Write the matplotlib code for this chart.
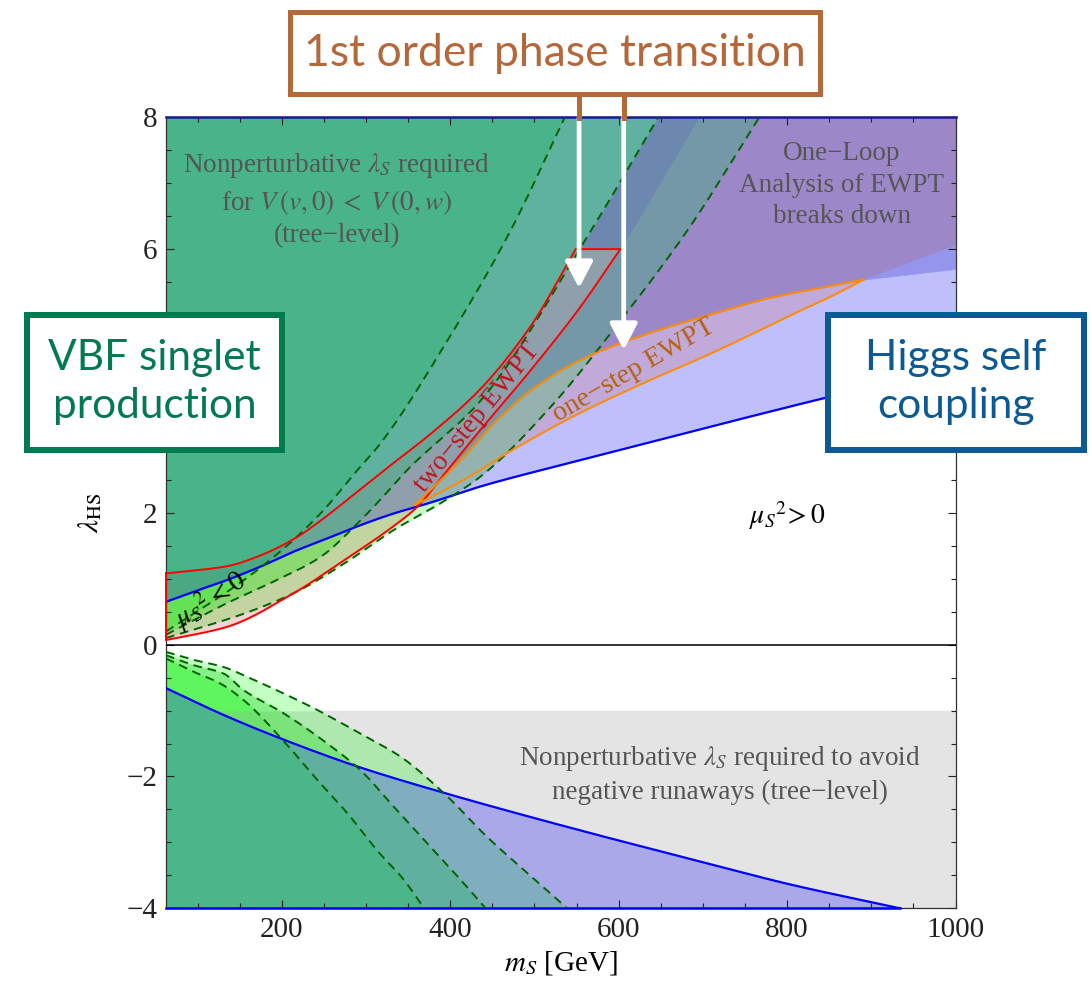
import numpy as np
import matplotlib
matplotlib.use('Agg')
import matplotlib.pyplot as plt
from matplotlib.patches import Rectangle
from matplotlib.lines import Line2D
from matplotlib.ticker import MultipleLocator, FixedLocator, FuncFormatter

plt.rcParams['font.family'] = ['Liberation Serif', 'DejaVu Serif']
plt.rcParams['mathtext.fontset'] = 'stix'

# ---------------- data (m_S [GeV], lambda_HS) ----------------
# Higgs self-coupling boundary (upper and lower branches)
blue_up_m = [62.5, 95, 135, 174, 214, 254, 293, 333, 373, 436, 555, 710, 844, 1000]
blue_up_l = [0.65, 0.80, 0.98, 1.18, 1.41, 1.61, 1.81, 1.99, 2.14, 2.40, 2.80, 3.31, 3.74, 4.22]
blue_lo_m = [62.5, 135, 202, 290, 393, 555, 700, 801, 934]
blue_lo_l = [-0.66, -1.09, -1.44, -1.85, -2.25, -2.82, -3.30, -3.63, -4.0]

# VBF singlet production contours (dashed), lambda_HS > 0
dA_m = [62.5, 115, 155, 198, 246, 290, 317, 397, 472, 536]
dA_l = [0.20, 0.63, 0.98, 1.41, 1.99, 2.65, 3.05, 4.62, 6.29, 8.0]
dB_m = [62.5, 135, 194, 246, 290, 317, 349, 436, 559, 647]
dB_l = [0.15, 0.63, 0.98, 1.33, 1.84, 2.20, 2.65, 3.70, 6.11, 8.0]
dC_m = [62.5, 155, 214, 274, 333, 389, 436, 516, 603, 682, 767]
dC_l = [0.10, 0.47, 0.78, 1.23, 1.74, 2.15, 2.55, 3.56, 4.93, 6.29, 8.0]

# VBF singlet production contours (dashed), lambda_HS < 0
d1_m = [62.5, 95, 127, 154.5, 202, 242, 278, 313, 345, 369]
d1_l = [-0.21, -0.41, -0.59, -0.84, -1.46, -2.05, -2.56, -3.12, -3.57, -4.0]
d2_m = [62.5, 95, 131, 154.5, 202, 254, 293, 333, 373, 412.5, 442]
d2_l = [-0.16, -0.31, -0.44, -0.69, -1.04, -1.50, -1.90, -2.46, -3.02, -3.57, -4.0]
d3_m = [62.5, 95, 131, 159, 202, 242, 293, 341, 393, 444, 492, 539]
d3_l = [-0.11, -0.23, -0.34, -0.49, -0.74, -0.99, -1.35, -1.70, -2.26, -2.92, -3.47, -4.0]

# two-step EWPT region (red): upper-left edge, flat top at 6, lower-right edge
red_hi_m = [62.5, 135, 174, 214, 246, 274, 317, 377, 436, 496, 549]
red_hi_l = [1.08, 1.19, 1.35, 1.60, 1.88, 2.16, 2.60, 3.20, 3.88, 4.84, 6.0]
red_top = 6.0
red_lo_m = [62.5, 135, 214, 274, 333, 360, 397, 436, 496, 555, 602]
red_lo_l = [0.07, 0.27, 0.78, 1.28, 1.80, 2.08, 2.65, 3.26, 4.17, 5.13, 6.0]
red_ext_m = [602, 695]          # continuation of the two-step band above lambda_HS = 6
red_ext_l = [6.0, 8.0]

# one-step EWPT region (orange)
oh_m = [358, 377, 416, 456, 496, 555, 635, 710, 776, 855, 891]
oh_l = [2.12, 2.35, 2.85, 3.41, 3.86, 4.32, 4.72, 5.01, 5.25, 5.45, 5.54]
ol_m = [358, 377, 416, 476, 555, 635, 710, 776, 813, 855, 891]
ol_l = [2.12, 2.24, 2.50, 2.97, 3.52, 4.00, 4.42, 4.82, 5.05, 5.30, 5.54]

# one-loop breakdown wedge beyond the one-step tip
wedge_m = [891, 1000]
wedge_top_l = [5.54, 6.06]
wedge_bot_l = [5.54, 5.70]

gray_top = -1.0          # nonperturbative lambda_S (negative runaways): lambda_HS < -1
arrow_m = [553, 606]     # white arrows from the title box
arrow_tip = [5.41, 4.47]

# ---------------- figure ----------------
W_PX, H_PX = 1091, 986
fig = plt.figure(figsize=(W_PX / 100, H_PX / 100), dpi=100)
L_PX, R_PX, T_PX, B_PX = 166, 955.5, 117.3, 908.3
ax = fig.add_axes([L_PX / W_PX, 1 - B_PX / H_PX, (R_PX - L_PX) / W_PX, (B_PX - T_PX) / H_PX])
XMIN, XMAX, YMIN, YMAX = 62.5, 1000, -4, 8
ax.set_xlim(XMIN, XMAX)
ax.set_ylim(YMIN, YMAX)

M = np.linspace(XMIN, XMAX, 4000)


def pchip(xs, ys, x, left=np.nan, right=np.nan):
    """Monotone cubic (Fritsch-Carlson) curve through the read points."""
    xs = np.asarray(xs, float)
    ys = np.asarray(ys, float)
    x = np.asarray(x, float)
    h = np.diff(xs)
    d = np.diff(ys) / h
    n = len(xs)
    s = np.zeros(n)
    s[0], s[-1] = d[0], d[-1]
    for k in range(1, n - 1):
        if d[k - 1] * d[k] > 0:
            w1 = 2 * h[k] + h[k - 1]
            w2 = h[k] + 2 * h[k - 1]
            s[k] = (w1 + w2) / (w1 / d[k - 1] + w2 / d[k])
    i = np.clip(np.searchsorted(xs, x) - 1, 0, n - 2)
    t = (x - xs[i]) / h[i]
    h00 = 2 * t ** 3 - 3 * t ** 2 + 1
    h10 = t ** 3 - 2 * t ** 2 + t
    h01 = -2 * t ** 3 + 3 * t ** 2
    h11 = t ** 3 - t ** 2
    y = h00 * ys[i] + h10 * h[i] * s[i] + h01 * ys[i + 1] + h11 * h[i] * s[i + 1]
    y = np.where(x < xs[0], left, y)
    y = np.where(x > xs[-1], right, y)
    return y


def f(xs, ys, left=np.nan, right=np.nan):
    return pchip(xs, ys, M, left, right)


def curve(xs, ys, n=400):
    xx = np.linspace(xs[0], xs[-1], n)
    return xx, pchip(xs, ys, xx)


def zone(lo, hi, color, z=1):
    lo = np.broadcast_to(np.asarray(lo, float), M.shape)
    hi = np.broadcast_to(np.asarray(hi, float), M.shape)
    ok = np.isfinite(lo) & np.isfinite(hi) & (hi > lo)
    if not ok.any():
        return
    ax.fill_between(M, np.where(ok, lo, 0), np.where(ok, hi, 0), where=ok,
                    facecolor=color, edgecolor=color, lw=0.5, zorder=z)


def MX(*a):
    r = a[0]
    for b in a[1:]:
        r = np.maximum(r, b)
    return r


def MN(*a):
    r = a[0]
    for b in a[1:]:
        r = np.minimum(r, b)
    return r


# ---- colours of the overlapping regions ----
gray = '#e4e4e4'
Lc = {0: '#bfbffc', 1: '#93b6bc', 2: '#5fb2a0', 3: '#49b489'}
Wc = {1: '#c6fac2', 2: '#88ee88', 3: '#62f062'}
Oc = {0: '#c1aad9', 1: '#96b2ae', 2: '#5fb2a0', 3: '#49b489'}
Pc = {0: '#9c88c8', 1: '#7598a8', 2: '#6a9aa8', 3: '#49b489'}
wedge_c = '#9595ee'
band_c = '#6d88ae'
RLc = {0: '#b8a8d0', 1: '#8fa0ac', 2: '#68a696', 3: '#4aa882'}
RWc = {0: '#f2d4d4', 1: '#c2d4a0', 2: '#8cd870', 3: '#64e155'}
Bc = {0: '#a9a9e9', 1: '#80aebe', 2: '#60b0a0', 3: '#4ab689'}
Gc = {1: '#aee8ae', 2: '#7ce27c', 3: '#6ee06e'}
WLc = {1: '#c2ffc2', 2: '#88f088', 3: '#5ef55e'}

# ---- upper half ----
bu = f(blue_up_m, blue_up_l)
A = f(dA_m, dA_l, right=99)
B = f(dB_m, dB_l, right=99)
C = f(dC_m, dC_l, right=99)
V = {3: (A, YMAX), 2: (B, A), 1: (C, B), 0: (0.0, C)}
ohi = f(oh_m, oh_l)
olo = f(ol_m, ol_l)
wt = np.interp(M, wedge_m, wedge_top_l, left=np.nan, right=np.nan)
wb = np.interp(M, wedge_m, wedge_bot_l, left=np.nan, right=np.nan)
pfl = np.where(M <= wedge_m[0], ohi, wt)
rlo = f(red_lo_m, red_lo_l)
rhi = np.where(M <= red_hi_m[-1], f(red_hi_m, red_hi_l), np.where(M <= red_lo_m[-1], red_top, np.nan))
S = np.where(M <= red_lo_m[-1], rlo, np.interp(M, red_ext_m, red_ext_l, right=YMAX))

for k, (vl, vh) in V.items():
    zone(MX(bu, vl), MN(YMAX, vh), Lc[k])
for k in (1, 2, 3):
    vl, vh = V[k]
    zone(MX(0.0, vl), MN(bu, vh), Wc[k])
for k, (vl, vh) in V.items():
    zone(MX(olo, vl), MN(ohi, vh), Oc[k])
for k, (vl, vh) in V.items():
    zone(MX(pfl, vl), MN(S, YMAX, vh), Pc[k])
zone(wb, wt, wedge_c)
zone(MX(red_top, S), MN(B, YMAX), band_c)
for k, (vl, vh) in V.items():
    zone(MX(rlo, bu, vl), MN(rhi, vh), RLc[k])
    zone(MX(rlo, vl, 0.0), MN(rhi, bu, vh), RWc[k])

# ---- lower half ----
ax.fill_between(M, YMIN, gray_top, facecolor=gray, edgecolor=gray, lw=0.5, zorder=1)
bl = f(blue_lo_m, blue_lo_l, right=-99)
D1 = f(d1_m, d1_l, right=-99)
D2 = f(d2_m, d2_l, right=-99)
D3 = f(d3_m, d3_l, right=-99)
VL = {3: (YMIN, D1), 2: (D1, D2), 1: (D2, D3), 0: (D3, 0.0)}
for k, (vl, vh) in VL.items():
    zone(MX(YMIN, vl), MN(bl, vh), Bc[k])
for k in (1, 2, 3):
    vl, vh = VL[k]
    zone(MX(bl, vl), MN(gray_top, vh), Gc[k])
    zone(MX(bl, gray_top, vl), MN(0.0, vh), WLc[k])

# ---- boundary lines ----
blue = '#0000ff'
ax.plot(*curve(blue_up_m, blue_up_l), color=blue, lw=1.6, zorder=3)
ax.plot(*curve(blue_lo_m, blue_lo_l), color=blue, lw=1.6, zorder=3)
ax.plot([XMIN, XMAX], [YMAX, YMAX], color='#1a1a9a', lw=1.8, zorder=3, clip_on=False)
ax.plot([XMIN, blue_lo_m[-1]], [YMIN, YMIN], color=blue, lw=1.8, zorder=3, clip_on=False)
dg = '#006400'
for xs, ys in ((dA_m, dA_l), (dB_m, dB_l), (dC_m, dC_l), (d1_m, d1_l), (d2_m, d2_l), (d3_m, d3_l)):
    ax.plot(*curve(xs, ys), color=dg, lw=1.4, ls=(0, (4.5, 3)), zorder=3)
hx, hy = curve(red_hi_m, red_hi_l)
lx, ly = curve(red_lo_m, red_lo_l)
red_x = np.concatenate([hx, [red_lo_m[-1]], lx[::-1], [hx[0]]])
red_y = np.concatenate([hy, [red_top], ly[::-1], [hy[0]]])
ax.plot(red_x, red_y, color='#ff0000', lw=1.4, zorder=3, clip_on=False)
ax.plot(*curve(oh_m, oh_l), color='#ff8c00', lw=1.4, zorder=3)
ax.plot(*curve(ol_m, ol_l), color='#ff8c00', lw=1.4, zorder=3)
ax.axhline(0, color='black', lw=1.1, zorder=3)

# ---- axes styling ----
ax.xaxis.set_major_locator(FixedLocator([200, 400, 600, 800, 1000]))
ax.xaxis.set_minor_locator(MultipleLocator(50))
ax.yaxis.set_major_locator(MultipleLocator(2))
ax.yaxis.set_minor_locator(MultipleLocator(0.5))
# the "4" label is hidden behind the VBF box in the original
ax.yaxis.set_major_formatter(FuncFormatter(lambda v, p: '' if abs(v - 4) < 1e-9 else f'{v:g}'.replace('-', '\u2212')))
ax.tick_params(which='both', direction='in', top=True, right=True, width=0.8, colors='#222222')
ax.tick_params(which='major', length=6, labelsize=21, pad=6)
ax.tick_params(which='minor', length=3.5)
for sp in ax.spines.values():
    sp.set_color('#333333')
    sp.set_linewidth(0.9)
ax.set_xlabel(r'$m_S$ [GeV]', fontsize=21)
ax.set_ylabel(r'$\lambda_{\mathrm{HS}}$', fontsize=21)
ax.xaxis.set_label_coords(0.5, -0.052)
ax.yaxis.set_label_coords(-0.078, 0.5)

# ---- in-plot annotations ----
tc = '#555555'
ax.text(265, 6.75, 'Nonperturbative $\\lambda_S$ required\nfor $V\\,(v,0)\\;<\\;V\\,(0,w)$\n(tree\u2212level)',
        ha='center', va='center', fontsize=19.5, color=tc, linespacing=1.35, zorder=4)
ax.text(865, 6.97, 'One\u2212Loop\nAnalysis of EWPT\nbreaks down',
        ha='center', va='center', fontsize=19.5, color=tc, linespacing=1.35, zorder=4)
ax.text(720, -1.97, 'Nonperturbative $\\lambda_S$ required to avoid\nnegative runaways (tree\u2212level)',
        ha='center', va='center', fontsize=19.5, color=tc, linespacing=1.35, zorder=4)
ax.text(800, 1.96, r'$\mu_S{}^2\!>0$', ha='center', va='center', fontsize=20, color='black', zorder=4)
ax.text(115, 0.68, r'$\mu_S{}^2<0$', ha='center', va='center', fontsize=20, color='black',
        rotation=33, rotation_mode='anchor', zorder=4)
ax.text(432, 3.45, 'two\u2212step EWPT', ha='center', va='center', fontsize=20, color='#c0141e',
        rotation=51, rotation_mode='anchor', zorder=4)
ax.text(618, 4.16, 'one\u2212step EWPT', ha='center', va='center', fontsize=20, color='#b5600f',
        rotation=30, rotation_mode='anchor', zorder=4)

# ---- arrows from the title box ----
for xm, tip in zip(arrow_m, arrow_tip):
    ax.annotate('', xy=(xm, tip), xytext=(xm, YMAX), zorder=6, annotation_clip=False,
                arrowprops=dict(arrowstyle='-|>,head_length=0.8,head_width=0.42', color='white',
                                lw=3.4, shrinkA=0, shrinkB=0, mutation_scale=20))


def px2fig(x, y):
    return x / W_PX, 1 - y / H_PX


brown = '#b4693a'
for xm in arrow_m:
    xp = L_PX + (xm - XMIN) / (XMAX - XMIN) * (R_PX - L_PX)
    x0, y0 = px2fig(xp, 95)
    x1, y1 = px2fig(xp, T_PX + 1)
    fig.add_artist(Line2D([x0, x1], [y0, y1], color=brown, lw=3.6, zorder=10))


def box(x0, y0, x1, y1, lw_px, ec):
    i = lw_px / 2
    fx0, fy1 = px2fig(x0 + i, y0 + i)
    fx1, fy0 = px2fig(x1 - i, y1 - i)
    fig.add_artist(Rectangle((fx0, fy0), fx1 - fx0, fy1 - fy0, transform=fig.transFigure,
                             facecolor='white', edgecolor=ec, lw=lw_px * 0.72, zorder=10))


box(287, 10, 822, 96, 5, brown)
fig.text(*px2fig(554.5, 53), '1st order phase transition', ha='center', va='center',
         fontsize=32, color='#b5673a', family=['Lato', 'DejaVu Sans'], zorder=11)

green = '#007a4e'
box(24, 312, 285, 453, 6, green)
fig.text(*px2fig(154.5, 382), 'VBF singlet\nproduction', ha='center', va='center',
         fontsize=30.5, color=green, family=['Lato', 'DejaVu Sans'], linespacing=1.32, zorder=11)

navy = '#0c5a95'
box(825, 312, 1087, 453, 6, navy)
fig.text(*px2fig(956, 382), 'Higgs self\ncoupling', ha='center', va='center',
         fontsize=30.5, color=navy, family=['Lato', 'DejaVu Sans'], linespacing=1.32, zorder=11)

fig.savefig('out.png', dpi=100)
